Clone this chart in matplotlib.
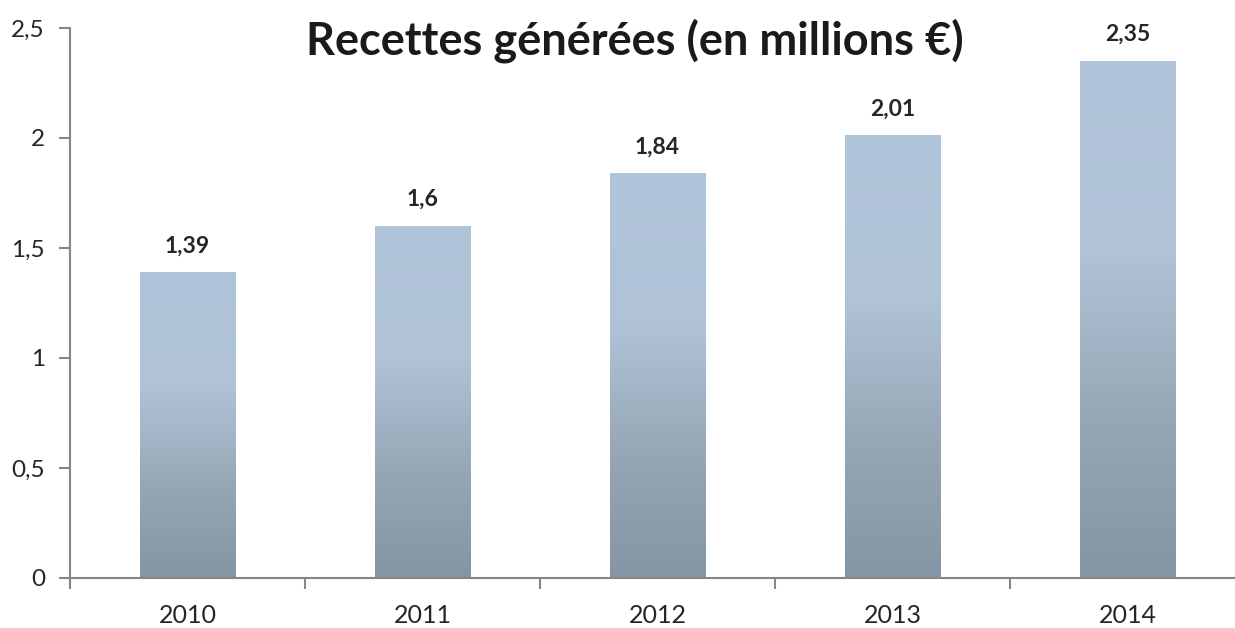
import matplotlib.pyplot as plt
import numpy as np
from matplotlib.colors import LinearSegmentedColormap

# data
years = ['2010', '2011', '2012', '2013', '2014']
recettes = [1.39, 1.6, 1.84, 2.01, 2.35]
labels = ['1,39', '1,6', '1,84', '2,01', '2,35']
yticks = [0, 0.5, 1, 1.5, 2, 2.5]
ytick_labels = ['0', '0,5', '1', '1,5', '2', '2,5']
title = 'Recettes générées (en millions €)'

plt.rcParams['font.family'] = ['Lato', 'DejaVu Sans']

fig = plt.figure(figsize=(12.35, 6.28), dpi=100)
# axis runs slightly past the right edge, like the original
ax = fig.add_axes([70 / 1235, 1 - 578 / 628, 1175 / 1235, 550 / 628])

grad = LinearSegmentedColormap.from_list(
    'bar', [(0, '#8495a5'), (0.3, '#96a6b5'), (0.62, '#afc2d6'), (1, '#b1c5da')])
g = np.linspace(0, 1, 256).reshape(-1, 1)

width = 0.405
x = np.arange(len(years))
bars = ax.bar(x, recettes, width=width, color='none', zorder=2)
for b in bars:
    x0, y0, w, h = b.get_x(), b.get_y(), b.get_width(), b.get_height()
    # soft shadow
    ax.add_patch(plt.Rectangle((x0 + 0.006, y0 - 0.012), w, h, color='#000000',
                               alpha=0.08, lw=0, zorder=1.5))
    ax.imshow(g, cmap=grad, origin='lower', aspect='auto',
              extent=(x0, x0 + w, y0, y0 + h), zorder=2)

for xi, v, lab in zip(x, recettes, labels):
    ax.annotate(lab, (xi, v), xytext=(0, 19), textcoords='offset points',
                ha='center', va='center', fontsize=16.5, fontweight='bold',
                color='#262626')

ax.set_xlim(-0.5, 4.5)
ax.set_ylim(0, 2.5)
ax.set_yticks(yticks)
ax.set_yticklabels(ytick_labels)
ax.set_xticks(x)
ax.set_xticklabels(years)
ax.set_xticks(np.arange(-0.5, 5, 1), minor=True)
ax.tick_params(axis='x', which='major', length=0, pad=19, labelsize=18, labelcolor='#262626')
ax.tick_params(axis='x', which='minor', length=8, width=1.5, color='#868686', direction='out')
ax.tick_params(axis='y', length=8, width=1.5, color='#868686', pad=10, labelsize=17.5,
               labelcolor='#262626')

for s in ['top', 'right']:
    ax.spines[s].set_visible(False)
for s in ['left', 'bottom']:
    ax.spines[s].set_color('#868686')
    ax.spines[s].set_linewidth(1.5)
ax.spines['bottom'].set_zorder(3)

fig.text(635 / 1235, 1 - 41 / 628, title, ha='center', va='center',
         fontsize=32.5, fontweight='bold', color='#1a1a1a')

fig.savefig('out.png', dpi=100)
